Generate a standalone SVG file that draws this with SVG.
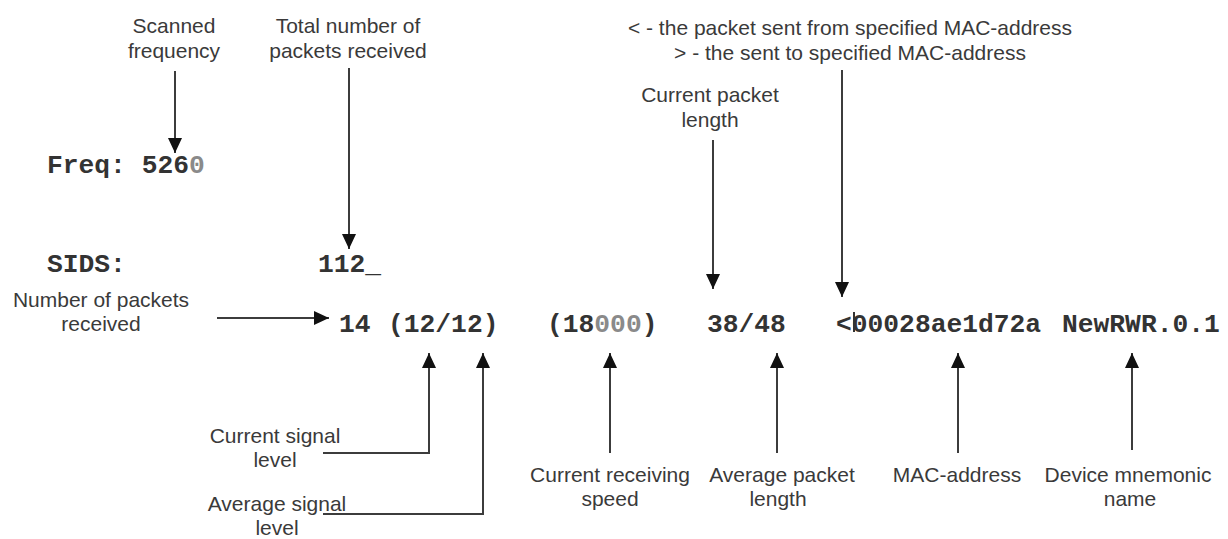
<svg xmlns="http://www.w3.org/2000/svg" width="1228" height="539" viewBox="0 0 1228 539">
  <style>
    .bg { fill: #ffffff; }
    .lbl { font-family: "Liberation Sans", Arial, sans-serif; font-size: 21px; fill: #3a3a3a; text-anchor: middle; }
    .term { font-family: "Liberation Mono", "Courier New", monospace; font-weight: bold; font-size: 26.3px; fill: #333333; }
    .dim { fill: #8a8a8a; }
    .wire { fill: none; stroke: #3c3c3c; stroke-width: 2; }
    .arrow { marker-end: url(#head); }
  </style>
  <defs>
    <marker id="head" markerUnits="userSpaceOnUse" markerWidth="16" markerHeight="16" refX="15" refY="7" orient="auto" viewBox="0 0 16 14">
      <path d="M0,0 L15,7 L0,14 Z" fill="#111111"/>
    </marker>
  </defs>
  <rect class="bg" x="0" y="0" width="1228" height="539"/>

  <!-- terminal output lines -->
  <g id="screen">
    <text class="term" x="47" y="173">Freq: 526<tspan class="dim">0</tspan></text>
    <text class="term" x="47" y="272">SIDS:</text>
    <text class="term" x="318" y="272">112_</text>
    <text class="term" x="339" y="332">14</text>
    <text class="term" x="388" y="332">(12/12)</text>
    <text class="term" x="547" y="332">(18<tspan class="dim">000</tspan>)</text>
    <text class="term" x="707" y="332">38/48</text>
    <text class="term" x="836" y="332">&lt;00028ae1d72a</text>
    <rect x="853" y="312" width="2" height="20" fill="#333333"/>
    <text class="term" x="1062" y="332">NewRWR.0.1</text>
  </g>

  <!-- annotation labels -->
  <g id="scanned-frequency">
    <text class="lbl" x="174" y="33">Scanned</text>
    <text class="lbl" x="174" y="58">frequency</text>
  </g>
  <g id="total-packets">
    <text class="lbl" x="348" y="33">Total number of</text>
    <text class="lbl" x="348" y="58">packets received</text>
  </g>
  <g id="direction-note">
    <text class="lbl" x="850" y="35">&lt; - the packet sent from specified MAC-address</text>
    <text class="lbl" x="850" y="60">&gt; - the sent to specified MAC-address</text>
  </g>
  <g id="current-packet-length">
    <text class="lbl" x="710" y="102">Current packet</text>
    <text class="lbl" x="710" y="127">length</text>
  </g>
  <g id="packets-received">
    <text class="lbl" x="101" y="307">Number of packets</text>
    <text class="lbl" x="101" y="331">received</text>
  </g>
  <g id="current-signal">
    <text class="lbl" x="275" y="443">Current signal</text>
    <text class="lbl" x="275" y="467">level</text>
  </g>
  <g id="average-signal">
    <text class="lbl" x="277" y="511">Average signal</text>
    <text class="lbl" x="277" y="535">level</text>
  </g>
  <g id="receiving-speed">
    <text class="lbl" x="610" y="482">Current receiving</text>
    <text class="lbl" x="610" y="506">speed</text>
  </g>
  <g id="average-packet-length">
    <text class="lbl" x="782" y="482">Average packet</text>
    <text class="lbl" x="778" y="506">length</text>
  </g>
  <g id="mac-address">
    <text class="lbl" x="957" y="482">MAC-address</text>
  </g>
  <g id="device-name">
    <text class="lbl" x="1128" y="482">Device mnemonic</text>
    <text class="lbl" x="1130" y="506">name</text>
  </g>

  <!-- connectors -->
  <g id="connectors">
    <path class="wire arrow" d="M175,71 L175,153"/>
    <path class="wire arrow" d="M349,68 L349,249"/>
    <path class="wire arrow" d="M713,140 L713,289"/>
    <path class="wire arrow" d="M842,70 L842,297"/>
    <path class="wire arrow" d="M217,318 L329,318"/>
    <path class="wire arrow" d="M323,453 L429,453 L429,353"/>
    <path class="wire arrow" d="M323,514 L483,514 L483,353"/>
    <path class="wire arrow" d="M610,453 L610,353"/>
    <path class="wire arrow" d="M777,453 L777,353"/>
    <path class="wire arrow" d="M958,453 L958,353"/>
    <path class="wire arrow" d="M1132,450 L1132,353"/>
  </g>
</svg>
